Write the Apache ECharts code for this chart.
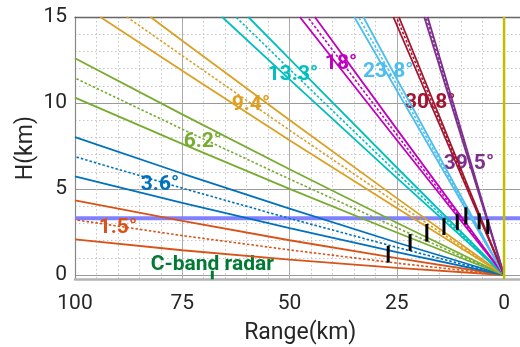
<!DOCTYPE html>
<html>
<head>
<meta charset="utf-8">
<script src="https://cdn.jsdelivr.net/npm/echarts@6/dist/echarts.min.js"></script>
<style>
  html, body { margin: 0; padding: 0; background: #fff; }
  #chart { width: 520px; height: 347px; }
</style>
</head>
<body>
<div id="chart"></div>
<script>
// Elevation angles of the volume scan
const elevations = ['1.5°', '3.6°', '6.2°', '9.4°', '13.3°', '18°', '23.8°', '30.8°', '39.5°'];

// Beam heights, [range km, height km]; the last point is where a beam leaves the 15 km top
const beamLower = [
  [[0, 0], [25, 0.41], [50, 0.89], [75, 1.44], [100, 2.07]],
  [[0, 0], [25, 1.33], [50, 2.72], [75, 4.20], [100, 5.74]],
  [[0, 0], [25, 2.47], [50, 5.01], [75, 7.62], [100, 10.31]],
  [[0, 0], [25, 3.89], [50, 7.84], [75, 11.88], [94.1, 15]],
  [[0, 0], [25, 5.65], [50, 11.37], [65.7, 15]],
  [[0, 0], [25, 7.85], [47.6, 15]],
  [[0, 0], [25, 10.73], [34.9, 15]],
  [[0, 0], [25.8, 15]],
  [[0, 0], [18.6, 15]]
];
const beamCenter = [
  [[0, 0], [25, 0.69], [50, 1.46], [75, 2.29], [100, 3.21]],
  [[0, 0], [25, 1.61], [50, 3.29], [75, 5.05], [100, 6.88]],
  [[0, 0], [25, 2.75], [50, 5.58], [75, 8.48], [100, 11.45]],
  [[0, 0], [25, 4.18], [50, 8.42], [75, 12.75], [87.9, 15]],
  [[0, 0], [25, 5.95], [50, 11.97], [62.5, 15]],
  [[0, 0], [25, 8.16], [45.8, 15]],
  [[0, 0], [25, 11.07], [33.9, 15]],
  [[0, 0], [25.1, 15]],
  [[0, 0], [18.2, 15]]
];
const beamUpper = [
  [[0, 0], [25, 0.98], [50, 2.02], [75, 3.15], [100, 4.34]],
  [[0, 0], [25, 1.89], [50, 3.86], [75, 5.90], [100, 8.02]],
  [[0, 0], [25, 3.04], [50, 6.15], [75, 9.34], [100, 12.60]],
  [[0, 0], [25, 4.47], [50, 9.01], [75, 13.62], [82.4, 15]],
  [[0, 0], [25, 6.25], [50, 12.57], [59.6, 15]],
  [[0, 0], [25, 8.48], [44.1, 15]],
  [[0, 0], [25, 11.41], [32.8, 15]],
  [[0, 0], [24.5, 15]],
  [[0, 0], [17.8, 15]]
];

// Where each elevation label sits, [range km, height km]
const labelAt = [
  [90.0, 2.85], [80.2, 5.39], [70.2, 7.85], [59.0, 10.0], [49.2, 11.76],
  [38.0, 12.40], [27.0, 11.92], [17.2, 10.13], [8.2, 6.59]
];

// Melting-layer height (km)
const bandHeight = 3.3;

// Black markers: range, bottom and top height (km)
const markRange  = [27.0, 21.9, 18.0, 14.0, 10.9, 8.9, 5.8, 3.8];
const markBottom = [0.72, 1.40, 1.94, 2.33, 2.62, 2.95, 2.66, 2.38];
const markTop    = [1.70, 2.38, 2.97, 3.30, 3.55, 3.94, 3.59, 3.24];

// Radar site marker and caption
const radarName = 'C-band radar';
const radarRange = 68;
const radarMark = [-0.25, 0.25];
const radarCaption = [68, 0.72];

// Axis ticks
const rangeTicks = [0, 25, 50, 75, 100];
const rangeMinor = [5, 10, 15, 20, 30, 35, 40, 45, 55, 60, 65, 70, 80, 85, 90, 95];
const heightTicks = [0, 5, 10, 15];
const heightMinor = [1, 2, 3, 4, 6, 7, 8, 9, 11, 12, 13, 14];

const colors = ['#d95319', '#0072bd', '#77ac30', '#dca023', '#00bfbf',
                '#bf00bf', '#4dbeee', '#a2142f', '#7e2f8e'];
const textColor = '#262626';
const font = 'Roboto';

const xMin = -5, xMax = 100, yMin = -0.25, yMax = 15;

const series = [];

// melting layer band
series.push({
  type: 'line', z: 1, silent: true, symbol: 'none',
  data: [[xMax, bandHeight], [xMin, bandHeight]],
  lineStyle: { color: '#8080ff', width: 4 }
});

// elevation labels and radar caption
const labelData = elevations.map((name, i) => ({
  name, value: labelAt[i],
  label: { color: colors[i] }
}));
labelData.push({ name: radarName, value: radarCaption, label: { color: '#007a35' } });
series.push({
  type: 'scatter', z: 2, silent: true, symbolSize: 0,
  itemStyle: { opacity: 1 },
  data: labelData,
  label: {
    show: true, position: 'inside', formatter: '{b}', opacity: 1, offset: [0, 2],
    fontFamily: font, fontSize: 21, fontWeight: 'bold'
  }
});

// beam edges (solid) and beam axis (dotted)
elevations.forEach((name, i) => {
  [beamLower[i], beamUpper[i]].forEach(d => series.push({
    type: 'line', z: 3, silent: true, symbol: 'none', clip: true,
    data: d, lineStyle: { color: colors[i], width: 1.8 }
  }));
  series.push({
    type: 'line', z: 3, silent: true, symbol: 'none', clip: true,
    data: beamCenter[i], lineStyle: { color: colors[i], width: 1.6, type: [2.5, 2] }
  });
});

// radar position line
series.push({
  type: 'line', z: 3, silent: true, symbol: 'none',
  data: [[0, yMin], [0, yMax]],
  lineStyle: { color: '#bfbf00', width: 2.5 }
});

// vertical markers drawn as segments between two heights
function segment(color) {
  return function (params, api) {
    const a = api.coord([api.value(0), api.value(1)]);
    const b = api.coord([api.value(0), api.value(2)]);
    return {
      type: 'line',
      shape: { x1: a[0], y1: a[1], x2: b[0], y2: b[1] },
      style: { stroke: color, lineWidth: 3 }
    };
  };
}
series.push({
  type: 'custom', z: 4, silent: true,
  data: markRange.map((r, i) => [r, markBottom[i], markTop[i]]),
  renderItem: segment('#000000')
});
series.push({
  type: 'custom', z: 4, silent: true,
  data: [[radarRange, radarMark[0], radarMark[1]]],
  renderItem: segment('#007a35')
});

const chart = echarts.init(document.getElementById('chart'), null, { renderer: 'canvas' });
chart.setOption({
  animation: false,
  backgroundColor: '#ffffff',
  grid: {
    left: 75, top: 17, right: -5.5, bottom: 67.7,
    containLabel: false, outerBoundsMode: 'none'
  },
  xAxis: [
    {
      type: 'value', position: 'bottom', inverse: true, min: xMin, max: xMax,
      name: 'Range(km)', nameLocation: 'middle', nameGap: 42, nameMoveOverlap: false,
      nameTextStyle: { fontFamily: font, fontSize: 23, color: textColor },
      axisLine: { show: true, onZero: false, lineStyle: { color: '#b4b4b4', width: 2.5 } },
      axisTick: { show: false, customValues: rangeTicks },
      axisLabel: { customValues: rangeTicks, margin: 14, fontFamily: font, fontSize: 21, color: textColor },
      splitLine: { show: true, lineStyle: { color: '#ababab', width: 1 } }
    },
    {
      type: 'value', position: 'top', inverse: true, min: xMin, max: xMax,
      axisLine: { show: true, onZero: false, lineStyle: { color: '#666666', width: 1.3 } },
      axisTick: { show: false, customValues: rangeMinor },
      axisLabel: { show: false, customValues: rangeMinor },
      splitLine: { show: true, lineStyle: { color: '#c4c4c4', width: 1, type: [1.5, 2.5] } }
    }
  ],
  yAxis: [
    {
      type: 'value', position: 'left', min: yMin, max: yMax,
      name: 'H(km)', nameLocation: 'middle', nameGap: 37, nameMoveOverlap: false,
      nameTextStyle: { fontFamily: font, fontSize: 23, color: textColor },
      axisLine: { show: true, onZero: false, lineStyle: { color: '#888888', width: 1.2 } },
      axisTick: { show: false, customValues: heightTicks },
      axisLabel: {
        customValues: heightTicks, margin: 8, padding: [6, 0, 0, 0],
        fontFamily: font, fontSize: 21, color: textColor
      },
      splitLine: { show: true, lineStyle: { color: '#9a9a9a', width: 1 } }
    },
    {
      type: 'value', position: 'left', min: yMin, max: yMax,
      axisLine: { show: false, onZero: false },
      axisTick: { show: false, customValues: heightMinor },
      axisLabel: { show: false, customValues: heightMinor },
      splitLine: { show: true, lineStyle: { color: '#c4c4c4', width: 1, type: [1.5, 2.5] } }
    }
  ],
  series
});
</script>
</body>
</html>
